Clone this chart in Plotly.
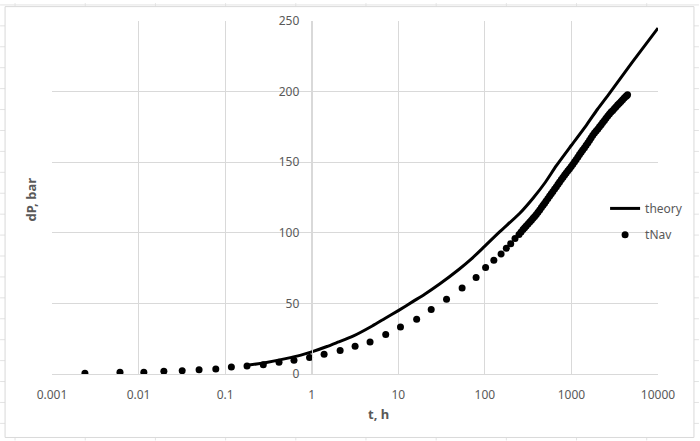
import numpy as np
import plotly.graph_objects as go

# theory curve
theory_t = [0.167, 0.3, 0.5, 0.75, 1, 1.5, 2, 3, 5, 7, 10, 15, 20, 30, 50, 70, 100,
            150, 250, 360, 500, 670, 1000, 1500, 2000, 2750, 5000, 10000]
theory_dp = [5.8, 8.2, 10.9, 13.4, 15.7, 19.5, 22.5, 26.8, 34.0, 39.3, 44.9, 51.6, 56.3,
             63.7, 74.0, 81.5, 90.6, 101.0, 113.5, 124.5, 135.8, 147.5, 162.0, 176.5,
             187.5, 198.8, 220.5, 245.0]

# tNav simulation points
tnav_t = [0.0024, 0.0061, 0.0115, 0.0196, 0.0319, 0.050, 0.078, 0.118, 0.179, 0.276,
          0.419, 0.624, 0.944, 1.39, 2.13, 3.17, 4.72, 7.16, 10.6, 16.3, 24.0, 36.1,
          54.6, 79.2, 102, 127, 154, 177, 199, 223, 248, 262, 276, 288, 300, 315, 330,
          345, 360, 376, 393, 411, 430, 450, 470, 490, 510, 535, 560, 585, 611, 640,
          670, 700, 730, 765, 800, 835, 870, 910, 951, 995, 1040, 1088, 1136, 1188,
          1240, 1295, 1350, 1415, 1480, 1550, 1620, 1690, 1765, 1845, 1930, 2020, 2110,
          2205, 2300, 2405, 2510, 2630, 2748, 2870, 3000, 3140, 3280, 3430, 3580, 3740,
          3900, 4070, 4240, 4350, 4450]
tnav_dp = [0.5, 1.2, 1.2, 1.9, 2.3, 3.0, 3.5, 4.9, 5.6, 6.6,
           8.4, 9.8, 11.7, 14.0, 16.6, 19.7, 22.7, 27.9, 33.2, 38.8, 45.6, 52.9,
           60.9, 68.3, 75.4, 80.5, 85.0, 89.0, 92.2, 96.0, 98.8, 100.6, 102.3, 103.6,
           104.8, 106.2, 107.6, 108.9, 110.3, 111.6, 112.9, 114.5, 116.2, 117.9, 119.5,
           121.0, 122.5, 124.3, 126.1, 127.7, 129.2, 131.0, 132.7, 134.3, 135.9, 137.7,
           139.4, 140.9, 142.4, 143.9, 145.3, 147.0, 148.6, 150.3, 152.0, 153.7, 155.4,
           157.0, 158.6, 160.3, 162.0, 163.8, 165.5, 167.3, 169.0, 170.6, 172.1, 173.6,
           175.1, 176.6, 178.1, 179.6, 181.1, 182.7, 184.2, 185.5, 186.7, 188.0, 189.3,
           190.6, 191.8, 193.0, 194.2, 195.4, 196.6, 197.1, 197.7]

x_ticks = [0.001, 0.01, 0.1, 1, 10, 100, 1000, 10000]
x_labels = ["0.001", "0.01", "0.1", "1", "10", "100", "1000", "10000"]
y_ticks = [0, 50, 100, 150, 200, 250]

W, H = 700, 441
L, R, T, B = 52, 659, 18, 374   # plot area in pixels
GRID = "#d9d9d9"
TXT = "#595959"
FONT = "Noto Sans"


def px(x):
    return (x - L) / (R - L)


def py(y):
    return (B - y) / (B - T)


fig = go.Figure()
fig.add_trace(go.Scatter(x=theory_t, y=theory_dp, mode="lines", name="theory",
                         line=dict(color="#000000", width=3, shape="spline", smoothing=0.6),
                         legend="legend"))
fig.add_trace(go.Scatter(x=tnav_t, y=tnav_dp, mode="markers", name="tNav",
                         marker=dict(color="#000000", size=7), legend="legend2"))

# spreadsheet cells behind the chart, then the chart area box
shapes = []
for cx in np.arange(15, W, 70.3):
    shapes.append(dict(type="line", xref="paper", yref="paper", layer="below",
                       x0=px(cx), x1=px(cx), y0=py(0), y1=py(H),
                       line=dict(color="#e3e3e3", width=1)))
for cy in np.arange(1.8, H, 21.1):
    shapes.append(dict(type="line", xref="paper", yref="paper", layer="below",
                       x0=px(0), x1=px(W), y0=py(cy), y1=py(cy),
                       line=dict(color="#e3e3e3", width=1)))
shapes.append(dict(type="rect", xref="paper", yref="paper", layer="below",
                   x0=px(5), x1=px(695), y0=py(438), y1=py(3.5),
                   fillcolor="white", line=dict(color=GRID, width=1)))

xmin, xmax = -3, 4
fig.update_layout(
    width=W, height=H,
    margin=dict(l=L, r=W - R, t=T, b=H - B),
    paper_bgcolor="white", plot_bgcolor="white",
    font=dict(family=FONT, size=12, color=TXT),
    shapes=shapes,
    legend=dict(x=px(606), y=py(207), xanchor="left", yanchor="middle",
                bgcolor="rgba(0,0,0,0)", font=dict(size=12, color=TXT)),
    legend2=dict(x=px(606), y=py(233.5), xanchor="left", yanchor="middle",
                 bgcolor="rgba(0,0,0,0)", font=dict(size=12, color=TXT)),
    showlegend=True,
    annotations=[
        dict(text="<b>dP, bar</b>", xref="paper", yref="paper", x=px(31), y=py(198),
             xanchor="center", yanchor="middle",
             showarrow=False, textangle=-90, font=dict(size=13, color=TXT)),
        dict(text="<b>t, h</b>", xref="paper", yref="paper", x=px(379), y=py(414),
             xanchor="center", yanchor="middle",
             showarrow=False, font=dict(size=13, color=TXT)),
    ],
)
fig.update_xaxes(type="log", range=[xmin, xmax], tickvals=x_ticks, ticktext=x_labels,
                 showgrid=True, gridcolor=GRID, gridwidth=1, showline=True,
                 linecolor=GRID, linewidth=1, zeroline=False, ticks="",
                 ticklabelstandoff=10, tickfont=dict(size=12, color=TXT))
fig.update_yaxes(range=[0, 250], tickvals=y_ticks, anchor="free",
                 position=(0 - xmin) / (xmax - xmin),
                 showgrid=True, gridcolor=GRID, gridwidth=1, showline=True,
                 linecolor=GRID, linewidth=1, zeroline=False, ticks="",
                 ticklabelstandoff=10, tickfont=dict(size=12, color=TXT))

# drop the browser's default body margin so the figure sits at the window corner
fig.write_html("out.html", config={"displayModeBar": False},
               post_script="document.body.style.margin='0';")
